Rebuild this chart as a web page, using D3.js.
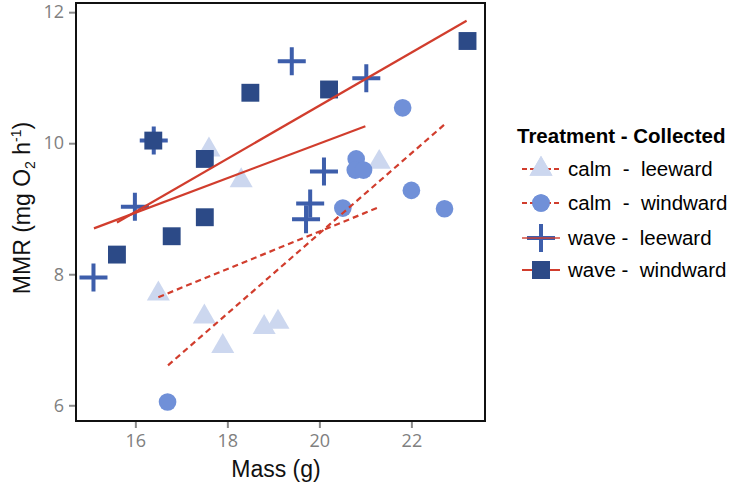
<!DOCTYPE html>
<html>
<head>
<meta charset="utf-8">
<script src="https://cdn.jsdelivr.net/npm/d3@7"></script>
<style>
  html, body { margin: 0; padding: 0; background: #fff; }
  svg { display: block; }
  text { font-family: "Liberation Sans", Arial, sans-serif; }
</style>
</head>
<body>
<svg id="chart" width="730" height="485"></svg>
<script>
// ---- Data ----
const groups = ["calm - leeward", "calm - windward", "wave - leeward", "wave - windward"];
const legendLabels = ["calm  -  leeward", "calm  -  windward", "wave -  leeward", "wave -  windward"];

const calmLeewardMass = [16.5, 17.5, 17.9, 18.8, 19.1, 17.6, 18.3, 21.3];
const calmLeewardMMR  = [7.70, 7.35, 6.90, 7.19, 7.27, 9.90, 9.43, 9.71];

const calmWindwardMass = [16.7, 20.51, 20.8, 20.78, 20.96, 21.81, 22.0, 22.72];
const calmWindwardMMR  = [6.05, 9.01, 9.76, 9.59, 9.59, 10.54, 9.28, 9.0];

const waveLeewardMass = [15.09, 15.99, 16.4, 19.4, 21.02, 20.1, 19.8, 19.71];
const waveLeewardMMR  = [7.95, 9.03, 10.04, 11.25, 10.99, 9.57, 9.08, 8.84];

const waveWindwardMass = [15.6, 16.39, 16.79, 17.51, 17.51, 18.5, 20.21, 23.22];
const waveWindwardMMR  = [8.30, 10.04, 8.58, 8.87, 9.76, 10.77, 10.82, 11.56];

// fitted line end points per group
const fitStartMass = [16.5, 16.71, 15.1, 15.6];
const fitEndMass   = [21.25, 22.71, 21.0, 23.2];
const fitStartMMR  = [7.65, 6.61, 8.70, 8.79];
const fitEndMMR    = [9.01, 10.28, 10.26, 11.87];

const xTicks = [16, 18, 20, 22];
const yTicks = [6, 8, 10, 12];

// ---- Styling ----
const colors = ["#ccd7ef", "#7090d8", "#3d5eab", "#2c4a87"];
const shapes = ["triangle", "circle", "plus", "square"];
const lineColor = "#d13d2d";
const dashed = [true, true, false, false];

const svg = d3.select("#chart");
const pLeft = 76, pRight = 485, pTop = 3, pBottom = 421;

const x = d3.scaleLinear().domain([14.71, 23.6]).range([pLeft, pRight]);
const y = d3.scaleLinear().domain([5.76, 12.14]).range([pBottom, pTop]);

const massArrays = [calmLeewardMass, calmWindwardMass, waveLeewardMass, waveWindwardMass];
const mmrArrays = [calmLeewardMMR, calmWindwardMMR, waveLeewardMMR, waveWindwardMMR];

// axes
const xAxis = svg.append("g").attr("transform", `translate(0,${pBottom})`)
  .call(d3.axisBottom(x).tickValues(xTicks).tickSize(7).tickPadding(6).tickFormat(d3.format("d")));
const yAxis = svg.append("g").attr("transform", `translate(${pLeft},0)`)
  .call(d3.axisLeft(y).tickValues(yTicks).tickSize(7).tickPadding(5).tickFormat(d3.format("d")));
[xAxis, yAxis].forEach(a => {
  a.select(".domain").remove();
  a.selectAll(".tick line").attr("stroke", "#8a8a8a").attr("stroke-width", 2);
  a.selectAll(".tick text").attr("fill", "#808080").style("font-size", "18px")
    .style("font-family", "'Open Sans', 'Liberation Sans', sans-serif");
});

function drawSymbol(g, shape, color, cx, cy) {
  if (shape === "plus") {
    const h = 14;
    g.append("path")
      .attr("d", `M${cx - h},${cy}H${cx + h}M${cx},${cy - h}V${cy + h}`)
      .attr("stroke", color).attr("stroke-width", 4).attr("fill", "none");
  } else {
    const type = shape === "triangle" ? d3.symbolTriangle : shape === "circle" ? d3.symbolCircle : d3.symbolSquare;
    const size = shape === "triangle" ? 230 : shape === "circle" ? 245 : 320;
    g.append("path")
      .attr("d", d3.symbol().type(type).size(size)())
      .attr("transform", `translate(${cx},${cy})`)
      .attr("fill", color);
  }
}

// points
const pts = svg.append("g");
groups.forEach((gname, i) => {
  massArrays[i].forEach((m, j) => {
    drawSymbol(pts, shapes[i], colors[i], x(m), y(mmrArrays[i][j]));
  });
});

// fitted lines
const lines = svg.append("g");
groups.forEach((gname, i) => {
  lines.append("line")
    .attr("x1", x(fitStartMass[i])).attr("y1", y(fitStartMMR[i]))
    .attr("x2", x(fitEndMass[i])).attr("y2", y(fitEndMMR[i]))
    .attr("stroke", lineColor).attr("stroke-width", 2.2)
    .attr("stroke-dasharray", dashed[i] ? "6,4" : null);
});

// panel border
svg.append("rect").attr("x", pLeft).attr("y", pTop)
  .attr("width", pRight - pLeft).attr("height", pBottom - pTop)
  .attr("fill", "none").attr("stroke", "#111").attr("stroke-width", 2);

// axis titles
svg.append("text").attr("x", 276).attr("y", 477).attr("text-anchor", "middle")
  .style("font-size", "23px").attr("fill", "#111").text("Mass (g)");

const yl = svg.append("text").attr("transform", "translate(30,208) rotate(-90)")
  .attr("text-anchor", "middle").style("font-size", "23px").attr("fill", "#111");
yl.append("tspan").text("MMR (mg O");
yl.append("tspan").attr("dy", 5).style("font-size", "14px").text("2");
yl.append("tspan").attr("dy", -5).text(" h");
yl.append("tspan").attr("dy", -9).style("font-size", "14px").text("-1");
yl.append("tspan").attr("dy", 9).text(")");

// legend
const lg = svg.append("g");
lg.append("text").attr("x", 517).attr("y", 143).style("font-size", "20.5px")
  .style("font-weight", "bold").attr("fill", "#000").text("Treatment - Collected");
const keyY = [169, 203, 238, 270];
groups.forEach((gname, i) => {
  const cy = keyY[i];
  const kg = lg.append("g");
  drawSymbol(kg, shapes[i], colors[i], 541, cy);
  kg.append("line").attr("x1", 522).attr("x2", 560).attr("y1", cy).attr("y2", cy)
    .attr("stroke", lineColor).attr("stroke-width", 2.2)
    .attr("stroke-opacity", shapes[i] === "plus" ? 0.7 : 1)
    .attr("stroke-dasharray", dashed[i] ? "5,3" : null);
  if (shapes[i] !== "plus") drawSymbol(kg, shapes[i], colors[i], 541, cy);
  lg.append("text").attr("x", 568).attr("y", cy + 7).style("font-size", "20.5px")
    .style("white-space", "pre").attr("fill", "#000").text(legendLabels[i]);
});
</script>
</body>
</html>
